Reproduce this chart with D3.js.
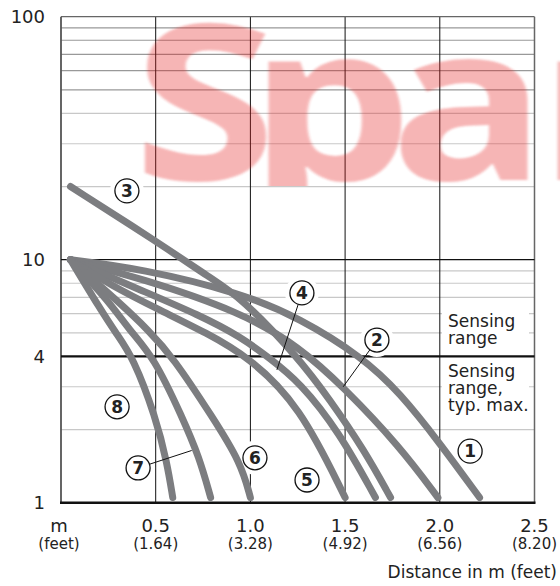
<!DOCTYPE html>
<html>
<head>
<meta charset="utf-8">
<script src="https://cdn.jsdelivr.net/npm/d3@7"></script>
<style>
  body { margin: 0; background: #fff; }
  svg { display: block; }
  text { font-family: "DejaVu Sans", sans-serif; fill: #222; }
</style>
</head>
<body>
<svg id="chart" width="560" height="586"></svg>
<script>
// axis values
const xTicks = [0.5, 1.0, 1.5, 2.0, 2.5];
const xTickLabels = ["0.5", "1.0", "1.5", "2.0", "2.5"];
const xTickFeet = ["(1.64)", "(3.28)", "(4.92)", "(6.56)", "(8.20)"];
const yTicks = [1, 4, 10, 100];
const yMinorDark = [50, 60, 70, 80, 90];
const yMinorLight = [2, 3, 5, 6, 7, 8, 9, 20, 30, 40];

// curves: [distance m, reserve]
const curve1 = [[0.05, 10], [0.42, 9.2], [0.95, 7.3], [1.26, 5.75], [1.59, 3.98], [1.79, 2.83], [2.0, 1.76], [2.21, 1.05]];
const curve2 = [[0.05, 10], [0.42, 8.4], [0.95, 6.1], [1.26, 4.37], [1.49, 3.0], [1.79, 1.7], [1.99, 1.05]];
const curve3 = [[0.05, 20], [0.51, 11.8], [0.79, 8.4], [0.95, 7.0], [1.25, 3.98], [1.42, 2.65], [1.6, 1.65], [1.74, 1.05]];
const curve4 = [[0.05, 10], [0.42, 7.5], [0.73, 5.92], [0.95, 4.81], [1.1, 3.94], [1.26, 3.14], [1.47, 1.95], [1.66, 1.05]];
const curve5 = [[0.05, 10], [0.26, 7.87], [0.52, 6.21], [0.77, 4.99], [0.99, 3.98], [1.26, 2.52], [1.5, 1.05]];
const curve6 = [[0.05, 10], [0.31, 6.64], [0.46, 5.14], [0.59, 3.98], [0.8, 2.25], [0.95, 1.46], [1.0, 1.05]];
const curve7 = [[0.05, 10], [0.26, 6.64], [0.36, 5.14], [0.49, 3.98], [0.64, 2.25], [0.73, 1.54], [0.79, 1.05]];
const curve8 = [[0.05, 10], [0.21, 6.21], [0.29, 4.99], [0.38, 3.98], [0.5, 2.25], [0.56, 1.46], [0.59, 1.05]];
const curves = [curve1, curve2, curve3, curve4, curve5, curve6, curve7, curve8];

// circled numbers and where their leader lines point
const markerIds = ["1", "2", "3", "4", "5", "6", "7", "8"];
const markerAt = [[2.16, 1.63], [1.668, 4.67], [0.348, 19.2], [1.272, 7.3], [1.299, 1.24], [1.024, 1.53], [0.407, 1.39], [0.296, 2.48]];
const leaderTo = { "2": [1.49, 3.0], "4": [1.14, 3.52], "7": [0.69, 1.64] };

const svg = d3.select("#chart");
const x = d3.scaleLinear().domain([0, 2.5]).range([61, 534.5]);
const y = d3.scaleLog().domain([1, 100]).range([502.7, 16.7]);

// watermark helpers
svg.append("clipPath").attr("id", "wmclip")
  .append("rect").attr("x", -200).attr("y", -200).attr("width", 900).attr("height", 386);
svg.append("filter").attr("id", "blur")
  .append("feGaussianBlur").attr("stdDeviation", 1.2);

// minor grid
const grid = svg.append("g");
grid.selectAll(".mdark").data(yMinorDark).join("line")
  .attr("x1", x(0)).attr("x2", x(2.5))
  .attr("y1", d => y(d)).attr("y2", d => y(d))
  .attr("stroke", "#999").attr("stroke-width", 1.2);
grid.selectAll(".mlight").data(yMinorLight).join("line")
  .attr("x1", x(0)).attr("x2", x(2.5))
  .attr("y1", d => y(d)).attr("y2", d => y(d))
  .attr("stroke", "#c8c8c8").attr("stroke-width", 1.2);

// white boxes behind the right hand notes
const notes = [
  { lines: ["Sensing", "range"], y0: 327, box: [310, 347] },
  { lines: ["Sensing", "range,", "typ. max."], y0: 377, box: [361, 415] }
];
grid.selectAll(".nbox").data(notes).join("rect")
  .attr("x", 442).attr("width", 87)
  .attr("y", d => d.box[0]).attr("height", d => d.box[1] - d.box[0])
  .attr("fill", "#fff");

// major grid
grid.selectAll(".vx").data(xTicks.slice(0, 4)).join("line")
  .attr("x1", d => x(d)).attr("x2", d => x(d))
  .attr("y1", y(100)).attr("y2", y(1))
  .attr("stroke", "#111").attr("stroke-width", 1);
grid.append("line").attr("x1", x(0)).attr("x2", x(2.5)).attr("y1", y(100)).attr("y2", y(100))
  .attr("stroke", "#666").attr("stroke-width", 1.2);
grid.append("line").attr("x1", x(2.5)).attr("x2", x(2.5)).attr("y1", y(100)).attr("y2", y(1))
  .attr("stroke", "#666").attr("stroke-width", 1.5);
grid.append("line").attr("x1", x(0)).attr("x2", x(0)).attr("y1", y(100)).attr("y2", y(1))
  .attr("stroke", "#555").attr("stroke-width", 1.8);
grid.append("line").attr("x1", x(0)).attr("x2", x(2.5)).attr("y1", y(10)).attr("y2", y(10))
  .attr("stroke", "#111").attr("stroke-width", 1.3);
grid.append("line").attr("x1", x(0)).attr("x2", x(2.5)).attr("y1", y(4)).attr("y2", y(4))
  .attr("stroke", "#111").attr("stroke-width", 2.2);
grid.append("line").attr("x1", x(0) - 1).attr("x2", x(2.5) + 1).attr("y1", y(1)).attr("y2", y(1))
  .attr("stroke", "#111").attr("stroke-width", 2.6);

// notes text
notes.forEach(n => {
  svg.append("g").selectAll("text").data(n.lines).join("text")
    .attr("x", 448).attr("y", (d, i) => n.y0 + i * 16.8)
    .attr("font-size", "17px")
    .text(d => d);
});

// masks round the circled numbers
svg.append("g").selectAll("circle").data(markerAt).join("circle")
  .attr("cx", d => x(d[0])).attr("cy", d => y(d[1])).attr("r", 17)
  .attr("fill", "#fff");

// curves
const line = d3.line().x(d => x(d[0])).y(d => y(d[1])).curve(d3.curveBasis);
svg.append("g").selectAll("path").data(curves).join("path")
  .attr("d", line)
  .attr("fill", "none")
  .attr("stroke", "#7c7d80")
  .attr("stroke-width", 7)
  .attr("stroke-linecap", "round")
  .attr("stroke-linejoin", "round");

// leaders
const r = 12;
Object.keys(leaderTo).forEach(id => {
  const m = markerAt[markerIds.indexOf(id)];
  const cx = x(m[0]), cy = y(m[1]);
  const tx = x(leaderTo[id][0]), ty = y(leaderTo[id][1]);
  const len = Math.hypot(tx - cx, ty - cy);
  svg.append("line")
    .attr("x1", cx + (tx - cx) / len * r).attr("y1", cy + (ty - cy) / len * r)
    .attr("x2", tx).attr("y2", ty)
    .attr("stroke", "#111").attr("stroke-width", 1);
});

// circled numbers
const mk = svg.append("g").selectAll("g").data(markerIds).join("g")
  .attr("transform", (d, i) => `translate(${x(markerAt[i][0])},${y(markerAt[i][1])})`);
mk.append("circle").attr("r", r).attr("fill", "#fff").attr("stroke", "#111").attr("stroke-width", 1.3);
mk.append("text").attr("text-anchor", "middle").attr("dy", "0.36em")
  .attr("font-size", "17px").attr("font-weight", "bold")
  .text(d => d);

// y labels
svg.append("g").selectAll("text").data(yTicks).join("text")
  .attr("x", 45).attr("y", d => y(d)).attr("dy", "0.36em")
  .attr("text-anchor", "end").attr("font-size", "18px")
  .text(d => d);

// x labels
svg.append("g").selectAll("text").data(xTickLabels).join("text")
  .attr("x", (d, i) => x(xTicks[i])).attr("y", 532)
  .attr("text-anchor", "middle").attr("font-size", "18px")
  .text(d => d);
svg.append("g").selectAll("text").data(xTickFeet).join("text")
  .attr("x", (d, i) => x(xTicks[i])).attr("y", 549)
  .attr("text-anchor", "middle").attr("font-size", "15px")
  .text(d => d);
svg.append("text").attr("x", 59).attr("y", 532).attr("text-anchor", "middle")
  .attr("font-size", "18px").text("m");
svg.append("text").attr("x", 59).attr("y", 549).attr("text-anchor", "middle")
  .attr("font-size", "15px").text("(feet)");
svg.append("text").attr("x", 557).attr("y", 578).attr("text-anchor", "end")
  .attr("font-size", "17px").text("Distance in m (feet)");

// watermark on top, translucent, wide letters
svg.append("g")
  .attr("clip-path", "url(#wmclip)")
  .append("text")
  .attr("transform", "translate(133,180) scale(1.2,1)")
  .attr("x", "0 96 214 337")
  .attr("y", 0)
  .attr("filter", "url(#blur)")
  .style("font-family", "'Open Sans', sans-serif")
  .style("font-weight", "bold")
  .style("font-size", "217px")
  .style("fill", "rgb(230,30,30)")
  .style("opacity", 0.32)
  .text("Spar");
</script>
</body>
</html>
